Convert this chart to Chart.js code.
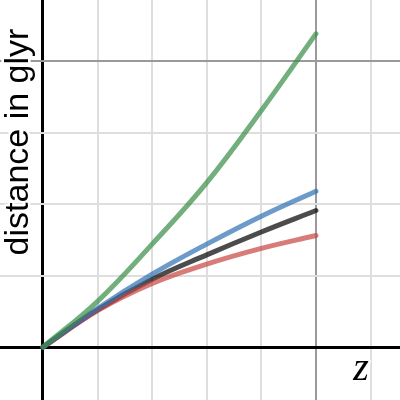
<!DOCTYPE html>
<html>
<head>
<meta charset="utf-8">
<script src="https://cdn.jsdelivr.net/npm/chart.js@4"></script>
<style>
  html, body { margin: 0; padding: 0; background: #fff; }
  #chart { display: block; }
</style>
</head>
<body>
<canvas id="chart" width="400" height="400"></canvas>
<script>
// Redshift values (z)
const redshifts = [0, 0.2, 0.4, 0.6, 0.8, 1.0];

// Distances in glyr
const greenDist = [0, 3.2, 7.2, 11.5, 16.55, 21.9];
const blueDist = [0, 2.7, 5.1, 7.2, 9.15, 10.9];
const blackDist = [0, 2.6, 4.75, 6.45, 8.05, 9.55];
const redDist = [0, 2.55, 4.45, 5.8, 6.9, 7.8];

const axisTitleY = "distance in glyr";
const axisTitleX = "z";

// Helper to build points
const toPoints = (values) => values.map((v, i) => ({ x: redshifts[i], y: v }));

const makeSet = (values, color) => ({
	data: toPoints(values),
	borderColor: color,
	borderWidth: 5,
	borderCapStyle: "round",
	pointRadius: 0,
	tension: 0.4,
	fill: false,
});

// Grid colour: axis black, major lines grey, minor lines light
const gridColor = (major) => (ctx) => {
	const v = ctx.tick.value;
	if (Math.abs(v) < 1e-9) return "#000";
	if (Math.abs(v / major - Math.round(v / major)) < 1e-6) return "#9a9a9a";
	return "#dedede";
};
const gridWidth = (ctx) => (Math.abs(ctx.tick.value) < 1e-9 ? 3 : 2);

// Labels drawn on top, with a white halo like the original
const labelPlugin = {
	id: "labels",
	afterDraw(chart) {
		const c = chart.ctx;
		c.save();
		c.lineJoin = "round";
		c.strokeStyle = "#fff";
		c.lineWidth = 5;
		c.fillStyle = "#000";

		c.translate(28, 142);
		c.rotate(-Math.PI / 2);
		c.font = '34px "Liberation Sans", Arial, sans-serif';
		c.textAlign = "center";
		c.textBaseline = "alphabetic";
		c.strokeText(axisTitleY, 0, 0);
		c.fillText(axisTitleY, 0, 0);
		c.restore();

		c.save();
		c.lineJoin = "round";
		c.strokeStyle = "#fff";
		c.lineWidth = 5;
		c.fillStyle = "#000";
		c.font = 'italic 40px "Liberation Serif", "Times New Roman", serif';
		c.textAlign = "center";
		c.textBaseline = "alphabetic";
		c.strokeText(axisTitleX, 361, 380);
		c.fillText(axisTitleX, 361, 380);
		c.restore();
	},
};

new Chart(document.getElementById("chart"), {
	type: "line",
	data: {
		datasets: [
			makeSet(greenDist, "rgba(56, 140, 70, 0.7)"),
			makeSet(blueDist, "rgba(45, 112, 179, 0.7)"),
			makeSet(redDist, "rgba(199, 68, 64, 0.7)"),
			makeSet(blackDist, "rgba(0, 0, 0, 0.7)"),
		],
	},
	options: {
		responsive: false,
		animation: false,
		layout: { padding: 0 },
		scales: {
			x: {
				type: "linear",
				min: -0.1575,
				max: 1.308,
				ticks: { display: false, stepSize: 0.2, includeBounds: false },
				grid: { color: gridColor(1), lineWidth: gridWidth, drawTicks: false },
				border: { display: false },
			},
			y: {
				type: "linear",
				min: -3.7,
				max: 24.27,
				ticks: { display: false, stepSize: 5, includeBounds: false },
				grid: { color: gridColor(20), lineWidth: gridWidth, drawTicks: false },
				border: { display: false },
			},
		},
		plugins: {
			legend: { display: false },
			tooltip: { enabled: false },
		},
	},
	plugins: [labelPlugin],
});
</script>
</body>
</html>
